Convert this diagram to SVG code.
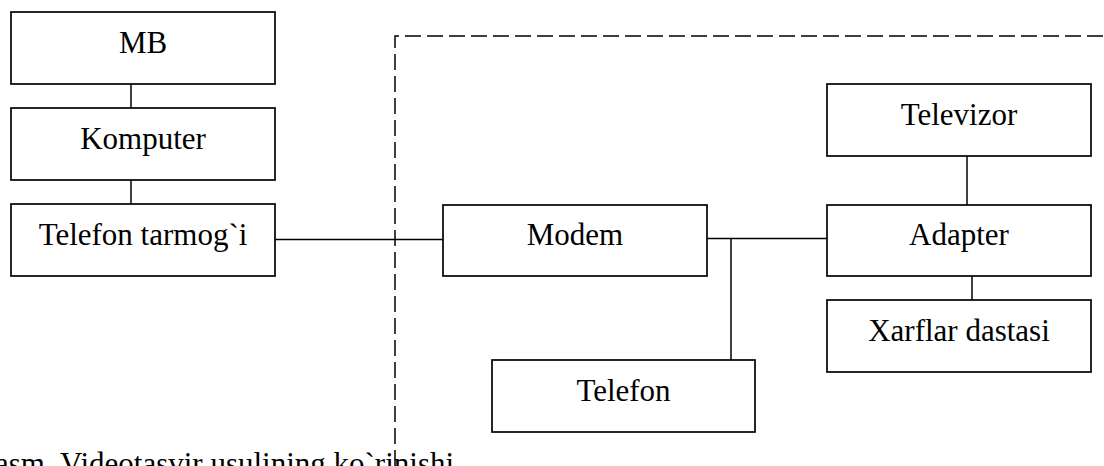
<svg xmlns="http://www.w3.org/2000/svg" width="1104" height="466" viewBox="0 0 1104 466">
<style>
.box{fill:#fff;stroke:#000;stroke-width:1.7}
.lbl{font-family:"Liberation Serif","Times New Roman",serif;font-size:31px;fill:#000;text-anchor:middle}
.cap{font-family:"Liberation Serif","Times New Roman",serif;font-size:31px;fill:#000}
.ln{stroke:#000;stroke-width:1.5;fill:none}
.dash{stroke:#000;stroke-width:1.5;fill:none;stroke-dasharray:16 6}
</style>
<rect width="1104" height="466" fill="#fff"/>
<g id="frame">
<path class="dash" d="M395 466 V36 H1104"/>
</g>
<g id="connectors">
<line class="ln" x1="131" y1="84" x2="131" y2="108"/>
<line class="ln" x1="131" y1="180" x2="131" y2="204"/>
<line class="ln" x1="275" y1="239.5" x2="443" y2="239.5"/>
<line class="ln" x1="707" y1="238.5" x2="827" y2="238.5"/>
<line class="ln" x1="731" y1="238.5" x2="731" y2="360"/>
<line class="ln" x1="967" y1="156" x2="967" y2="205"/>
<line class="ln" x1="972" y1="276" x2="972" y2="300"/>
</g>
<g id="mb"><rect class="box" x="11" y="12" width="264" height="72"/><text class="lbl" x="143" y="53">MB</text></g>
<g id="komputer"><rect class="box" x="11" y="108" width="264" height="72"/><text class="lbl" x="143" y="149">Komputer</text></g>
<g id="tarmog"><rect class="box" x="11" y="204" width="264" height="72"/><text class="lbl" x="143" y="245">Telefon tarmog`i</text></g>
<g id="modem"><rect class="box" x="443" y="205" width="264" height="71"/><text class="lbl" x="575" y="245">Modem</text></g>
<g id="televizor"><rect class="box" x="827" y="84" width="264" height="72"/><text class="lbl" x="959" y="125">Televizor</text></g>
<g id="adapter"><rect class="box" x="827" y="205" width="264" height="71"/><text class="lbl" x="959" y="245">Adapter</text></g>
<g id="xarflar"><rect class="box" x="827" y="300" width="264" height="72"/><text class="lbl" x="959" y="341">Xarflar dastasi</text></g>
<g id="telefon"><rect class="box" x="492" y="360" width="263" height="72"/><text class="lbl" x="623.5" y="401">Telefon</text></g>
<g id="caption"><text class="cap" x="-5" y="474">asm. Videotasvir usulining ko`rinishi</text></g>
</svg>
